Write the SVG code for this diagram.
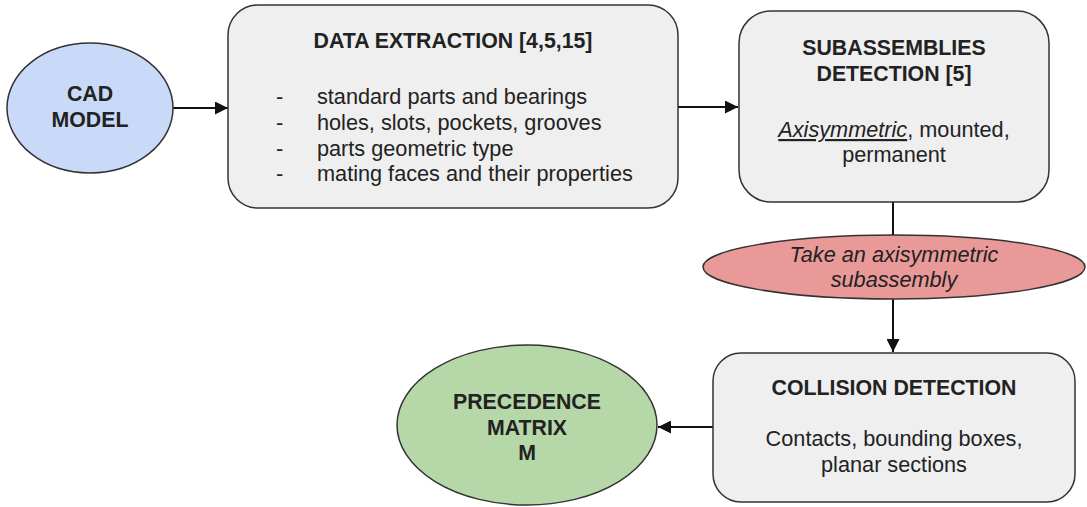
<svg xmlns="http://www.w3.org/2000/svg" width="1087" height="507" viewBox="0 0 1087 507">
  <style>
    .box { fill: #efefef; stroke: #333333; stroke-width: 1.5; }
    .oval { stroke: #333333; stroke-width: 1.5; }
    .t { font-family: "Liberation Sans", Arial, sans-serif; font-size: 21.7px; fill: #222222; }
    .b { font-weight: bold; font-size: 21.3px; }
    .c { text-anchor: middle; }
    .i { font-style: italic; }
    .link { fill: none; stroke: #111111; stroke-width: 2; }
  </style>
  <defs>
    <marker id="arrow" viewBox="0 0 10 10" refX="10" refY="5" markerWidth="7.5" markerHeight="6.5" markerUnits="strokeWidth" orient="auto">
      <path d="M0,0 L10,5 L0,10 z" fill="#111111"/>
    </marker>
  </defs>

  <rect width="1087" height="507" fill="#ffffff"/>

  <!-- connectors -->
  <g id="connectors">
    <line class="link" x1="173" y1="108" x2="228" y2="108" marker-end="url(#arrow)"/>
    <line class="link" x1="678" y1="107" x2="738" y2="107" marker-end="url(#arrow)"/>
    <line class="link" x1="893" y1="202" x2="893" y2="235"/>
    <line class="link" x1="893" y1="299" x2="893" y2="352" marker-end="url(#arrow)"/>
    <line class="link" x1="713" y1="427" x2="658" y2="427" marker-end="url(#arrow)"/>
  </g>

  <!-- CAD model -->
  <g id="cad-model">
    <ellipse class="oval" cx="90" cy="108" rx="83" ry="65" fill="#c9daf8"/>
    <text class="t b c" x="90" y="101">CAD</text>
    <text class="t b c" x="90" y="127">MODEL</text>
  </g>

  <!-- Data extraction -->
  <g id="data-extraction">
    <rect class="box" x="228" y="5" width="450" height="203" rx="30" ry="30"/>
    <text class="t b c" x="453" y="48">DATA EXTRACTION [4,5,15]</text>
    <text class="t" x="276" y="104">-</text>
    <text class="t" x="317" y="104">standard parts and bearings</text>
    <text class="t" x="276" y="130">-</text>
    <text class="t" x="317" y="130">holes, slots, pockets, grooves</text>
    <text class="t" x="276" y="155.5">-</text>
    <text class="t" x="317" y="155.5">parts geometric type</text>
    <text class="t" x="276" y="181">-</text>
    <text class="t" x="317" y="181">mating faces and their properties</text>
  </g>

  <!-- Subassemblies detection -->
  <g id="subassemblies-detection">
    <rect class="box" x="739" y="11" width="310" height="191" rx="32" ry="32"/>
    <text class="t b c" x="894" y="55">SUBASSEMBLIES</text>
    <text class="t b c" x="894" y="81">DETECTION [5]</text>
    <text class="t c" x="894" y="137"><tspan class="i" text-decoration="underline">Axisymmetric</tspan>, mounted,</text>
    <text class="t c" x="894" y="162">permanent</text>
  </g>

  <!-- Take an axisymmetric subassembly -->
  <g id="take-subassembly">
    <ellipse class="oval" cx="894" cy="267" rx="191" ry="32" fill="#ea9999"/>
    <text class="t i c" x="894" y="262">Take an axisymmetric</text>
    <text class="t i c" x="894" y="287">subassembly</text>
  </g>

  <!-- Collision detection -->
  <g id="collision-detection">
    <rect class="box" x="713" y="353" width="362" height="149" rx="28" ry="28"/>
    <text class="t b c" x="894" y="395">COLLISION DETECTION</text>
    <text class="t c" x="894" y="446">Contacts, bounding boxes,</text>
    <text class="t c" x="894" y="472">planar sections</text>
  </g>

  <!-- Precedence matrix -->
  <g id="precedence-matrix">
    <ellipse class="oval" cx="527" cy="425" rx="130" ry="80" fill="#b6d7a8"/>
    <text class="t b c" x="527" y="409">PRECEDENCE</text>
    <text class="t b c" x="527" y="434.5">MATRIX</text>
    <text class="t b c" x="527" y="460">M</text>
  </g>
</svg>
